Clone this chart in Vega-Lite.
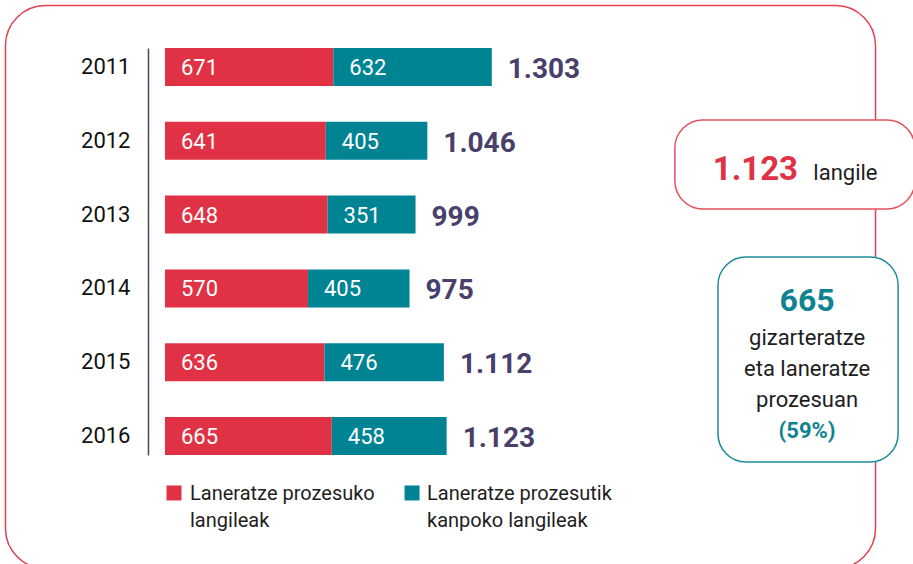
{
  "$schema": "https://vega.github.io/schema/vega-lite/v6.json",
  "width": 913,
  "height": 564,
  "autosize": "none",
  "padding": 0,
  "background": "#ffffff",
  "config": {
    "view": {"stroke": null},
    "font": "Roboto",
    "locale": {"number": {"decimal": ",", "thousands": ".", "grouping": [3], "currency": ["", " €"]}}
  },
  "datasets": {
    "bars": [
      {"year": "2011", "cat": "Laneratze prozesuko langileak", "value": 671},
      {"year": "2011", "cat": "Laneratze prozesutik kanpoko langileak", "value": 632},
      {"year": "2012", "cat": "Laneratze prozesuko langileak", "value": 641},
      {"year": "2012", "cat": "Laneratze prozesutik kanpoko langileak", "value": 405},
      {"year": "2013", "cat": "Laneratze prozesuko langileak", "value": 648},
      {"year": "2013", "cat": "Laneratze prozesutik kanpoko langileak", "value": 351},
      {"year": "2014", "cat": "Laneratze prozesuko langileak", "value": 570},
      {"year": "2014", "cat": "Laneratze prozesutik kanpoko langileak", "value": 405},
      {"year": "2015", "cat": "Laneratze prozesuko langileak", "value": 636},
      {"year": "2015", "cat": "Laneratze prozesutik kanpoko langileak", "value": 476},
      {"year": "2016", "cat": "Laneratze prozesuko langileak", "value": 665},
      {"year": "2016", "cat": "Laneratze prozesutik kanpoko langileak", "value": 458}
    ],
    "frame": [{"x": -636, "x2": 2833, "y": -0.833, "y2": 6.795}],
    "boxes": [
      {"box": "total", "x": 2033, "x2": 2990, "y": 0.718, "y2": 1.924},
      {"box": "share", "x": 2205, "x2": 2923, "y": 2.575, "y2": 5.352}
    ],
    "notes": [
      {"role": "headline_red", "text": "1.123", "x": 2524, "y": 1.531},
      {"role": "body_left", "text": "langile", "x": 2585, "y": 1.531},
      {"role": "headline_teal", "text": "665", "x": 2560, "y": 3.306},
      {"role": "body_center", "text": "gizarteratze", "x": 2560, "y": 3.767},
      {"role": "body_center", "text": "eta laneratze", "x": 2560, "y": 4.187},
      {"role": "body_center", "text": "prozesuan", "x": 2560, "y": 4.607},
      {"role": "bold_teal", "text": "(59%)", "x": 2560, "y": 5.027}
    ],
    "legendKeys": [
      {"cat": "Laneratze prozesuko langileak", "x": 35.9, "y": 5.772},
      {"cat": "Laneratze prozesutik kanpoko langileak", "x": 985, "y": 5.772}
    ],
    "legendText": [
      {"text": "Laneratze prozesuko", "x": 99.7, "y": 5.867},
      {"text": "langileak", "x": 99.7, "y": 6.233},
      {"text": "Laneratze prozesutik", "x": 1044.7, "y": 5.867},
      {"text": "kanpoko langileak", "x": 1044.7, "y": 6.233}
    ]
  },
  "layer": [
    {
      "data": {"name": "frame"},
      "mark": {"type": "rect", "fill": null, "stroke": "#E2404F", "strokeWidth": 1.5, "cornerRadius": 40},
      "encoding": {
        "x": {"field": "x", "type": "quantitative", "scale": {"domain": [0, 3000], "range": [165, 917.4], "nice": false, "zero": false}, "axis": null},
        "x2": {"field": "x2"},
        "y": {"field": "y", "type": "quantitative", "scale": {"domain": [0, 5], "range": [67, 436], "nice": false, "zero": false}, "axis": null},
        "y2": {"field": "y2"}
      }
    },
    {
      "data": {"name": "bars"},
      "transform": [
        {"stack": "value", "groupby": ["year"], "sort": [{"field": "cat", "order": "ascending"}], "as": ["v0", "v1"]}
      ],
      "layer": [
        {
          "mark": {"type": "bar"},
          "encoding": {
            "x": {"field": "v0", "type": "quantitative", "scale": {"domain": [0, 3000], "range": [165, 917.4], "nice": false, "zero": false}, "axis": null},
            "x2": {"field": "v1"},
            "y": {
              "field": "year", "type": "ordinal", "sort": "ascending",
              "scale": {"range": [48, 455], "paddingInner": 0.485, "paddingOuter": 0},
              "axis": {"orient": "left", "offset": -148, "title": null, "ticks": false, "domain": true, "domainColor": "#4B4465", "domainWidth": 1.5, "labelPadding": 18, "labelFontSize": 22, "labelColor": "#111111", "labelFont": "Roboto"}
            },
            "color": {
              "field": "cat", "type": "nominal",
              "scale": {"domain": ["Laneratze prozesuko langileak", "Laneratze prozesutik kanpoko langileak"], "range": ["#E03244", "#008494"]},
              "legend": null
            }
          }
        },
        {
          "mark": {"type": "text", "align": "left", "baseline": "middle", "dx": 16, "dy": 1, "fontSize": 22, "color": "#ffffff"},
          "encoding": {
            "x": {"field": "v0", "type": "quantitative"},
            "y": {"field": "year", "type": "ordinal", "sort": "ascending"},
            "text": {"field": "value", "type": "quantitative", "format": ",d"}
          }
        },
        {
          "mark": {"type": "text", "align": "left", "baseline": "middle", "dx": 16, "dy": 3, "fontSize": 28, "fontWeight": "bold", "color": "#4A3F6B"},
          "encoding": {
            "x": {"aggregate": "sum", "field": "value", "type": "quantitative"},
            "y": {"field": "year", "type": "ordinal", "sort": "ascending"},
            "text": {"aggregate": "sum", "field": "value", "type": "quantitative", "format": ",d"}
          }
        }
      ]
    },
    {
      "data": {"name": "boxes"},
      "layer": [
        {
          "mark": {"type": "rect", "fill": "#000000", "opacity": 0.05, "cornerRadius": 28, "xOffset": 3, "yOffset": 5},
          "encoding": {
            "x": {"field": "x", "type": "quantitative"},
            "x2": {"field": "x2"},
            "y": {"field": "y", "type": "quantitative", "scale": {"domain": [0, 5], "range": [67, 436], "nice": false, "zero": false}, "axis": null},
            "y2": {"field": "y2"}
          }
        },
        {
          "mark": {"type": "rect", "fill": "#000000", "opacity": 0.06, "cornerRadius": 28, "xOffset": 1.5, "yOffset": 2.5},
          "encoding": {
            "x": {"field": "x", "type": "quantitative"},
            "x2": {"field": "x2"},
            "y": {"field": "y", "type": "quantitative", "scale": {"domain": [0, 5], "range": [67, 436], "nice": false, "zero": false}, "axis": null},
            "y2": {"field": "y2"}
          }
        },
        {
          "mark": {"type": "rect", "fill": "#ffffff", "strokeWidth": 1.5, "cornerRadius": 28},
          "encoding": {
            "x": {"field": "x", "type": "quantitative"},
            "x2": {"field": "x2"},
            "y": {"field": "y", "type": "quantitative", "scale": {"domain": [0, 5], "range": [67, 436], "nice": false, "zero": false}, "axis": null},
            "y2": {"field": "y2"},
            "stroke": {"field": "box", "type": "nominal", "scale": {"domain": ["total", "share"], "range": ["#E2535F", "#1F8C99"]}, "legend": null}
          }
        }
      ]
    },
    {
      "data": {"name": "notes"},
      "encoding": {
        "x": {"field": "x", "type": "quantitative"},
        "y": {"field": "y", "type": "quantitative", "scale": {"domain": [0, 5], "range": [67, 436], "nice": false, "zero": false}, "axis": null},
        "text": {"field": "text", "type": "nominal"}
      },
      "layer": [
        {"transform": [{"filter": "datum.role === 'headline_red'"}], "mark": {"type": "text", "align": "right", "baseline": "alphabetic", "fontSize": 33, "fontWeight": "bold", "color": "#E03244"}},
        {"transform": [{"filter": "datum.role === 'body_left'"}], "mark": {"type": "text", "align": "left", "baseline": "alphabetic", "fontSize": 22, "color": "#1E1E1E"}},
        {"transform": [{"filter": "datum.role === 'headline_teal'"}], "mark": {"type": "text", "align": "center", "baseline": "alphabetic", "fontSize": 32, "fontWeight": "bold", "color": "#0E8391"}},
        {"transform": [{"filter": "datum.role === 'body_center'"}], "mark": {"type": "text", "align": "center", "baseline": "alphabetic", "fontSize": 22, "color": "#1E1E1E"}},
        {"transform": [{"filter": "datum.role === 'bold_teal'"}], "mark": {"type": "text", "align": "center", "baseline": "alphabetic", "fontSize": 22, "fontWeight": "bold", "color": "#0E8391"}}
      ]
    },
    {
      "data": {"name": "legendKeys"},
      "mark": {"type": "square", "size": 225, "opacity": 1, "filled": true},
      "encoding": {
        "x": {"field": "x", "type": "quantitative"},
        "y": {"field": "y", "type": "quantitative", "scale": {"domain": [0, 5], "range": [67, 436], "nice": false, "zero": false}, "axis": null},
        "color": {"field": "cat", "type": "nominal", "legend": null}
      }
    },
    {
      "data": {"name": "legendText"},
      "mark": {"type": "text", "align": "left", "baseline": "alphabetic", "fontSize": 20, "color": "#1E1E1E"},
      "encoding": {
        "x": {"field": "x", "type": "quantitative"},
        "y": {"field": "y", "type": "quantitative", "scale": {"domain": [0, 5], "range": [67, 436], "nice": false, "zero": false}, "axis": null},
        "text": {"field": "text", "type": "nominal"}
      }
    }
  ],
  "resolve": {"scale": {"y": "independent"}}
}
